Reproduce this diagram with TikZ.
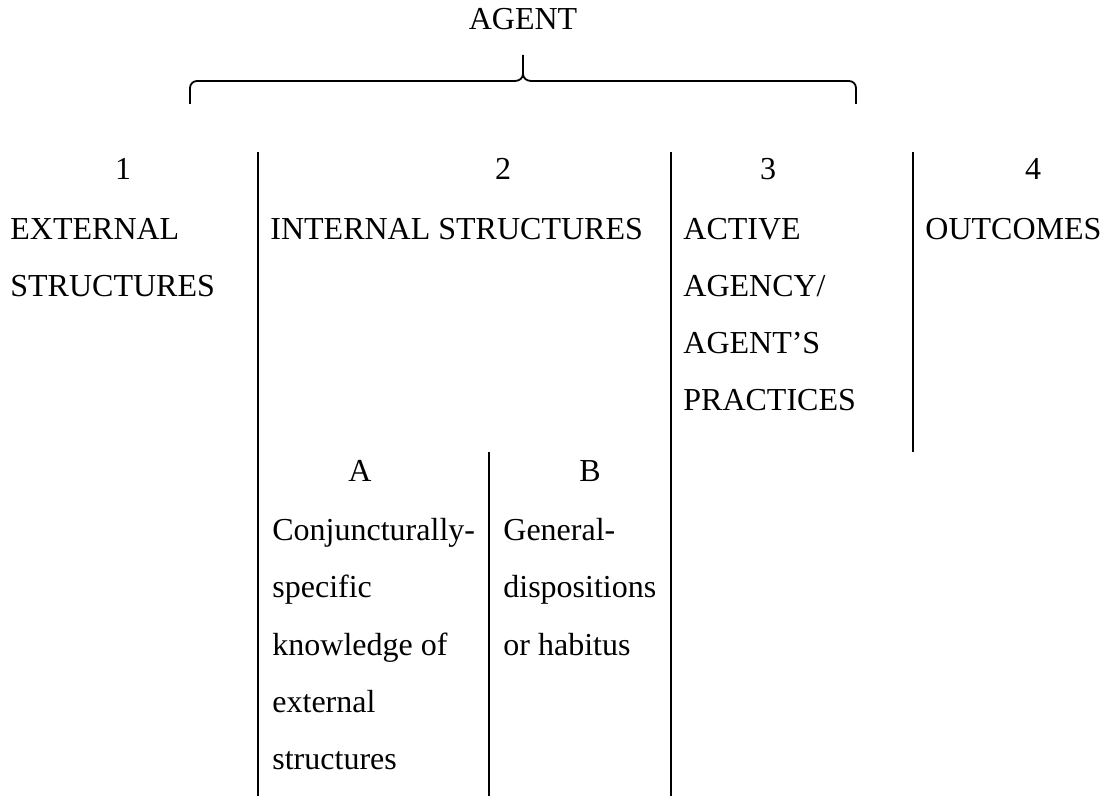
\documentclass[tikz,border=0pt]{standalone}
\usepackage{fontspec}
\setmainfont{Liberation Serif}
\begin{document}
\begin{tikzpicture}[x=0.5pt,y=-0.5pt,
  txt/.style={font=\fontsize{16}{19}\selectfont, inner sep=0pt, anchor=base west},
  num/.style={font=\fontsize{16}{19}\selectfont, inner sep=0pt, anchor=base},
  rule/.style={line width=1.1pt},
  brace/.style={line width=0.9pt}]
\useasboundingbox (0,0) rectangle (1114,796);
% title and brace
\node[num] (agent) at (523,30) {AGENT};
\coordinate (bl) at (190,104);
\coordinate (br) at (856,104);
\coordinate (bm) at (523,55);
\draw[brace] (bl) -- (190,88) to[out=90,in=180] (197,81) -- (515,81)
  to[out=0,in=-90] (523,74) -- (bm);
\draw[brace] (br) -- (856,88) to[out=90,in=0] (849,81) -- (531,81)
  to[out=180,in=-90] (523,74);
% column numbers
\node[num] (n1) at (123,180) {1};
\node[num] (n2) at (503,180) {2};
\node[num] (n3) at (768,180) {3};
\node[num] (n4) at (1033,180) {4};
% column texts
\node[txt] (ext1) at (10,240) {EXTERNAL};
\node[txt] (ext2) at (10,297) {STRUCTURES};
\node[txt] (int) at (270,240) {INTERNAL STRUCTURES};
\node[txt] (act1) at (683,240) {ACTIVE};
\node[txt] (act2) at (683,297) {AGENCY/};
\node[txt] (act3) at (683,354) {AGENT'S};
\node[txt] (act4) at (683,411) {PRACTICES};
\node[txt] (out) at (925,240) {OUTCOMES};
% sub-columns
\node[num] (na) at (360,482) {A};
\node[num] (nb) at (590,482) {B};
\node[txt] (a1) at (272,540) {Conjuncturally-};
\node[txt] (a2) at (272,597) {specific};
\node[txt] (a3) at (272,655) {knowledge of};
\node[txt] (a4) at (272,712) {external};
\node[txt] (a5) at (272,769) {structures};
\node[txt] (b1) at (503,540) {General-};
\node[txt] (b2) at (503,597) {dispositions};
\node[txt] (b3) at (503,655) {or habitus};
% dividers
\coordinate (v1t) at (258,152); \coordinate (v1b) at (258,796);
\coordinate (v2t) at (671,152); \coordinate (v2b) at (671,796);
\coordinate (v3t) at (913,152); \coordinate (v3b) at (913,452);
\coordinate (v4t) at (489,452); \coordinate (v4b) at (489,796);
\draw[rule] (v1t) -- (v1b);
\draw[rule] (v2t) -- (v2b);
\draw[rule] (v3t) -- (v3b);
\draw[rule] (v4t) -- (v4b);
\end{tikzpicture}
\end{document}
